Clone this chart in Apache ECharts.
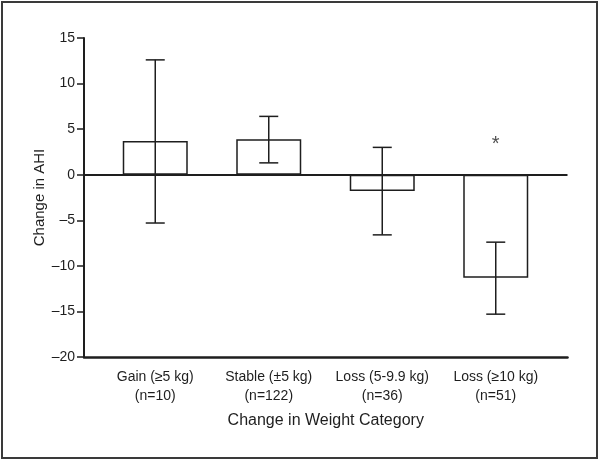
<!DOCTYPE html>
<html><head><meta charset="utf-8">
<script src="https://cdn.jsdelivr.net/npm/echarts@6/dist/echarts.min.js"></script>
<style>html,body{margin:0;padding:0;background:#fff}#c{width:600px;height:461px}</style>
</head><body><div id="c"></div>
<script>
const categories = ['Gain (≥5 kg)\n(n=10)', 'Stable (±5 kg)\n(n=122)', 'Loss (5-9.9 kg)\n(n=36)', 'Loss (≥10 kg)\n(n=51)'];
const meanChange = [3.7, 3.9, -1.8, -11.3];
const errLow = [-5.3, 1.3, -6.6, -15.3];
const errHigh = [12.6, 6.4, 3.0, -7.4];
const significance = ['', '', '', '*'];
const sigLevel = 3.3;
const yMin = -20, yMax = 15, yStep = 5;

const FONT = "'Liberation Sans Narrow', 'Liberation Sans', Arial, sans-serif";
const INK = '#1e1e1e';
const chart = echarts.init(document.getElementById('c'), null, {renderer: 'canvas'});

const errData = categories.map((c, i) => [i, errLow[i], errHigh[i]]);
const sigData = significance.map((s, i) => s ? {value: [i, sigLevel], mark: s} : null).filter(Boolean);

chart.setOption({
  animation: false,
  backgroundColor: '#fff',
  textStyle: {fontFamily: FONT, color: INK},
  graphic: [{
    type: 'rect', shape: {x: 2, y: 2, width: 595, height: 456},
    style: {fill: 'none', stroke: '#3a3a3a', lineWidth: 2}, silent: true, z: 100
  }],
  grid: [
    {left: 98.5, right: 47.5, top: 38, bottom: 104},
    {left: 84, right: 32.5, top: 38, bottom: 104}
  ],
  xAxis: [
    {
      type: 'category', gridIndex: 0, data: categories,
      axisLine: {show: false}, axisTick: {show: false}, splitLine: {show: false},
      axisLabel: {fontFamily: FONT, fontSize: 14, lineHeight: 19, color: INK, margin: 11, interval: 0}
    },
    {
      type: 'value', gridIndex: 1, min: 0, max: 1, position: 'bottom',
      axisLine: {show: true, onZero: false, lineStyle: {color: INK, width: 2.5}},
      axisTick: {show: false}, axisLabel: {show: false}, splitLine: {show: false},
      name: 'Change in Weight Category', nameLocation: 'middle', nameGap: 56,
      nameMoveOverlap: false,
      nameTextStyle: {fontFamily: FONT, fontSize: 16, color: INK}
    }
  ],
  yAxis: [
    {type: 'value', gridIndex: 0, min: yMin, max: yMax, interval: yStep, show: false},
    {
      type: 'value', gridIndex: 1, min: yMin, max: yMax, interval: yStep,
      axisLine: {show: true, lineStyle: {color: INK, width: 2}},
      axisTick: {show: true, length: 7, lineStyle: {color: INK, width: 1.5}},
      splitLine: {show: false},
      axisLabel: {fontFamily: FONT, fontSize: 14, color: INK, margin: 9,
        formatter: v => String(v).replace('-', '\u2013')},
      name: 'Change in AHI', nameLocation: 'middle', nameGap: 37,
      nameMoveOverlap: false,
      nameTextStyle: {fontFamily: FONT, fontSize: 15, color: INK}
    }
  ],
  series: [
    {
      type: 'bar', xAxisIndex: 0, yAxisIndex: 0, data: meanChange, barWidth: 65,
      itemStyle: {color: '#fff', borderColor: INK, borderWidth: 1.5}, z: 2
    },
    {
      type: 'custom', xAxisIndex: 0, yAxisIndex: 0, data: errData, z: 4,
      renderItem: function (params, api) {
        const x = api.value(0);
        const pLo = api.coord([x, api.value(1)]);
        const pHi = api.coord([x, api.value(2)]);
        const cap = 9.5;
        const style = {stroke: INK, lineWidth: 1.5};
        return {type: 'group', children: [
          {type: 'line', shape: {x1: pLo[0], y1: pLo[1], x2: pHi[0], y2: pHi[1]}, style: style},
          {type: 'line', shape: {x1: pLo[0] - cap, y1: pLo[1], x2: pLo[0] + cap, y2: pLo[1]}, style: style},
          {type: 'line', shape: {x1: pHi[0] - cap, y1: pHi[1], x2: pHi[0] + cap, y2: pHi[1]}, style: style}
        ]};
      }
    },
    {
      type: 'scatter', xAxisIndex: 0, yAxisIndex: 0, data: sigData, symbolSize: 1,
      itemStyle: {color: 'rgba(0,0,0,0)'},
      label: {show: true, position: 'inside', formatter: p => p.data.mark,
        fontFamily: FONT, fontSize: 20, color: INK}
    },
    {
      type: 'line', xAxisIndex: 1, yAxisIndex: 1, data: [], z: 5,
      markLine: {silent: true, symbol: ['none', 'none'], label: {show: false},
        lineStyle: {type: 'solid', color: INK, width: 2.2},
        data: [{yAxis: 0}]}
    }
  ]
});
</script></body></html>
